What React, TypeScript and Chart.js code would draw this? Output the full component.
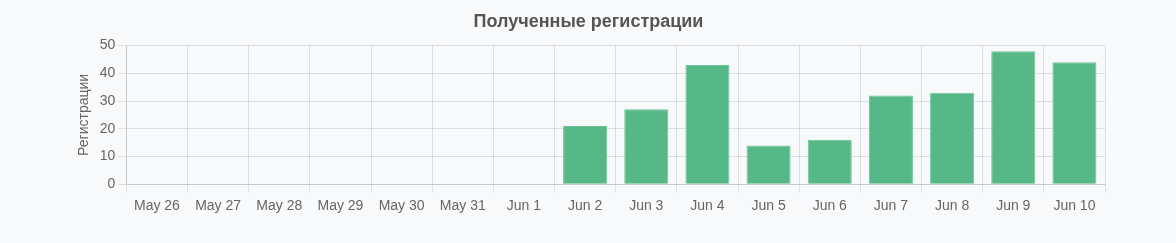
import React, { useEffect, useRef } from "react";
import { Chart, registerables } from "chart.js";

Chart.register(...registerables);

const categories = ["May 26", "May 27", "May 28", "May 29", "May 30", "May 31", "Jun 1", "Jun 2", "Jun 3", "Jun 4", "Jun 5", "Jun 6", "Jun 7", "Jun 8", "Jun 9", "Jun 10"];
const registrations = [0, 0, 0, 0, 0, 0, 0, 21, 27, 43, 14, 16, 32, 33, 48, 44];
const titleText = "Полученные регистрации";
const yAxisTitle = "Регистрации";

const FONT = "Helvetica, Arial, 'Liberation Sans', sans-serif";

export default function App() {
  const ref = useRef<HTMLCanvasElement | null>(null);
  useEffect(() => {
    document.body.style.background = "#f8f9fb";
    const chart = new Chart(ref.current!, {
      type: "bar",
      data: {
        labels: categories,
        datasets: [
          {
            label: yAxisTitle,
            data: registrations,
            backgroundColor: "#55b886",
            borderColor: "#6cc598",
            borderWidth: 1,
            categoryPercentage: 0.8,
            barPercentage: 0.9,
          },
        ],
      },
      options: {
        animation: false,
        responsive: true,
        maintainAspectRatio: false,
        layout: { padding: { left: 64, right: 63, top: 0, bottom: 14 } },
        plugins: {
          legend: { display: false },
          tooltip: { enabled: false },
          title: {
            display: true,
            text: titleText,
            color: "#555",
            font: { family: FONT, size: 18, weight: "bold" },
            padding: { top: 3, bottom: 13 },
          },
        },
        scales: {
          x: {
            grid: { color: "rgba(0,0,0,0.1)", offset: true },
            ticks: { color: "#666", padding: 6, font: { family: FONT, size: 14 }, maxRotation: 0, autoSkip: false },
          },
          y: {
            min: 0,
            max: 50,
            grid: { color: "rgba(0,0,0,0.1)" },
            ticks: { stepSize: 10, color: "#666", font: { family: FONT, size: 14 } },
            title: { display: true, text: yAxisTitle, color: "#666", font: { family: FONT, size: 14 } },
          },
        },
      },
    });
    return () => chart.destroy();
  }, []);
  return (
    <div style={{ position: "relative", height: "227px", width: "100%" }}>
      <canvas ref={ref} />
    </div>
  );
}
